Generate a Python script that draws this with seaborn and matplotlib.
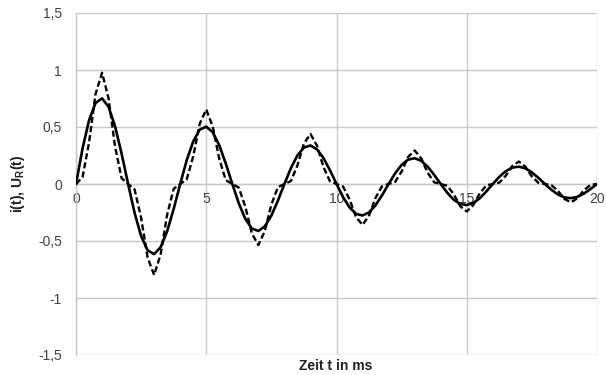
import numpy as np
import pandas as pd
import matplotlib
matplotlib.use("Agg")
import matplotlib.pyplot as plt
import seaborn as sns

# time axis in ms (0.25 ms steps)
t_ms = [i * 0.25 for i in range(81)]

# solid curve i(t)
i_t = [0, .310, .558, .711, .751, .677, .505, .267,
       0, -.254, -.457, -.582, -.615, -.554, -.414, -.218,
       0, .208, .374, .477, .503, .454, .339, .179,
       0, -.170, -.306, -.390, -.412, -.371, -.277, -.146,
       0, .139, .251, .320, .338, .304, .227, .120,
       0, -.114, -.205, -.262, -.276, -.249, -.186, -.098,
       0, .093, .168, .214, .226, .204, .152, .080,
       0, -.076, -.138, -.175, -.185, -.167, -.125, -.066,
       0, .063, .113, .144, .152, .137, .102, .054,
       0, -.051, -.092, -.118, -.124, -.112, -.084, -.044,
       0]

# dashed curve U_R(t)
u_r = [0, .059, .363, .789, .976, .751, .328, .051,
       0, -.048, -.297, -.646, -.799, -.615, -.269, -.042,
       0, .040, .243, .529, .654, .503, .220, .034,
       0, -.032, -.199, -.433, -.536, -.412, -.180, -.028,
       0, .026, .163, .355, .439, .337, .148, .023,
       0, -.022, -.134, -.290, -.359, -.276, -.121, -.019,
       0, .018, .109, .238, .294, .226, .099, .015,
       0, -.015, -.089, -.195, -.241, -.185, -.081, -.013,
       0, .012, .073, .159, .197, .152, .066, .010,
       0, -.010, -.060, -.131, -.161, -.124, -.054, -.008,
       0]

x_ticks = [0, 5, 10, 15, 20]
x_tick_labels = ["0", "5", "10", "15", "20"]
y_ticks = [-1.5, -1, -0.5, 0, 0.5, 1, 1.5]
y_tick_labels = ["-1,5", "-1", "-0,5", "0", "0,5", "1", "1,5"]

df = pd.DataFrame({"t": t_ms, "i": i_t, "u": u_r})

sns.set_style("white")
plt.rcParams["font.family"] = ["Liberation Sans", "DejaVu Sans"]
plt.rcParams["mathtext.fontset"] = "custom"
plt.rcParams["mathtext.rm"] = "Liberation Sans"
plt.rcParams["mathtext.bf"] = "Liberation Sans:bold"

fig = plt.figure(figsize=(6.06, 3.75), dpi=100)
ax = fig.add_axes([76 / 606, 20 / 375, (597 - 76) / 606, (355 - 13) / 375])

grid_c = "#c8c8c8"
sns.lineplot(data=df, x="t", y="u", ax=ax, color="black", linewidth=1.7,
             linestyle=(0, (2.6, 1.3)), zorder=3)
sns.lineplot(data=df, x="t", y="i", ax=ax, color="black", linewidth=1.9, zorder=4)

ax.set_xlim(0, 20)
ax.set_ylim(-1.5, 1.5)
ax.set_xticks(x_ticks)
ax.set_xticklabels(x_tick_labels)
ax.set_yticks(y_ticks)
ax.set_yticklabels(y_tick_labels)
ax.grid(True, color=grid_c, linewidth=1.0)
ax.set_axisbelow(True)

for s in ["top", "right"]:
    ax.spines[s].set_visible(False)
ax.spines["left"].set_color(grid_c)
ax.spines["left"].set_linewidth(1.0)
ax.spines["bottom"].set_position(("data", 0))
ax.spines["bottom"].set_color(grid_c)
ax.spines["bottom"].set_linewidth(1.0)

ax.tick_params(axis="both", length=0, labelsize=10, labelcolor="#404040")
ax.tick_params(axis="x", pad=6)
ax.tick_params(axis="y", pad=10)

ax.set_xlabel("")
ax.set_ylabel("i(t), U$_\\mathbf{R}$(t)", fontweight="bold", fontsize=10,
              color="#202020", labelpad=8)
fig.text(336 / 606, 1 - 366 / 375, "Zeit t in ms", ha="center", va="center",
         fontweight="bold", fontsize=10, color="#202020")

fig.savefig("out.png", dpi=100)
